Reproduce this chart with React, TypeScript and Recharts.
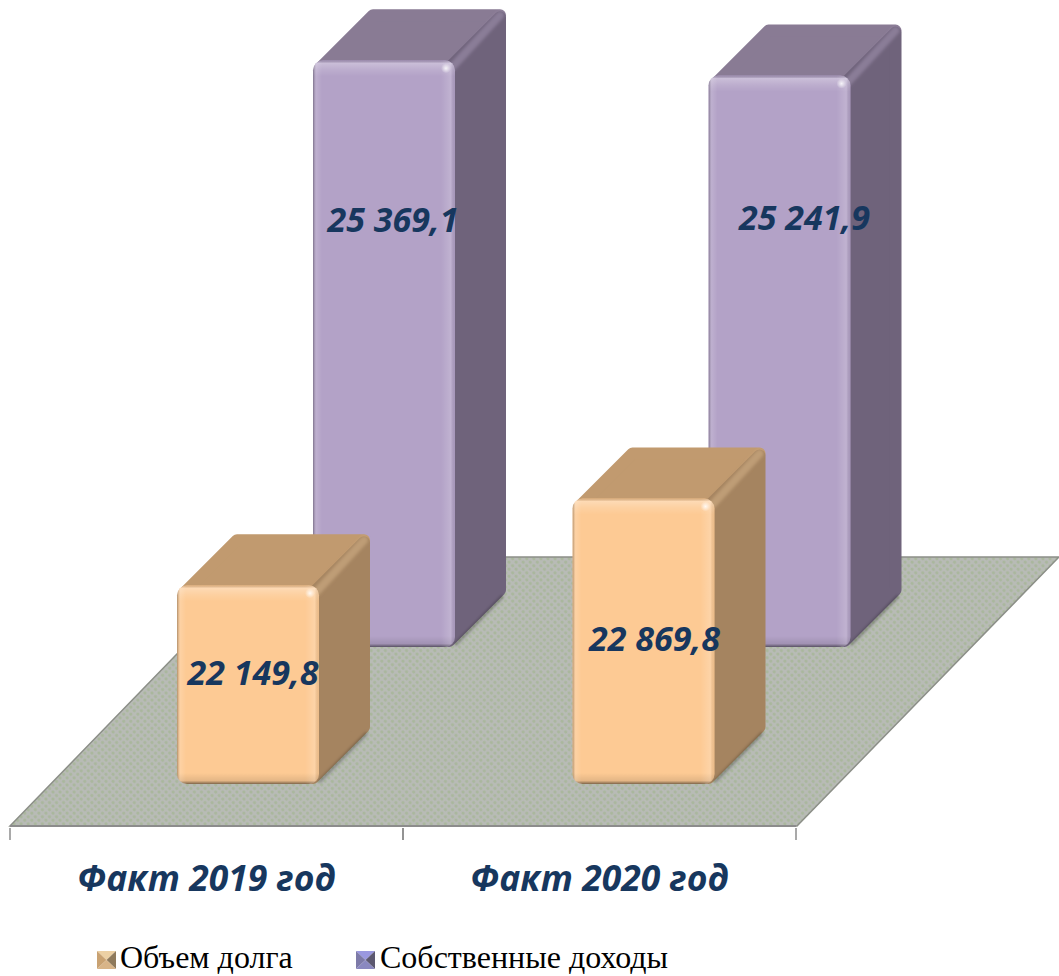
import React from 'react';
import { BarChart, Bar, XAxis, YAxis, Legend, LabelList } from 'recharts';

const categories = ['Факт 2019 год', 'Факт 2020 год'];
const debtValues = [22149.8, 22869.8];
const incomeValues = [25369.1, 25241.9];
const seriesNames = ['Объем долга', 'Собственные доходы'];

const chartData = categories.map((category, i) => ({
  category,
  debt: debtValues[i],
  income: incomeValues[i],
}));

const LABEL_COLOR = '#17375e';
const LABEL_FONT = '"Open Sans", sans-serif';
const DEPTH = 51;
const HALF_BAND = 196.5;

// front row sits above the axis line, back row further up the floor
const debtStyle = { front: '#fdca94', top: '#c19a6f', side: '#a58460', ridge: '#d8b68c', lift: -42 };
const incomeStyle = { front: '#b3a2c7', top: '#897b94', side: '#6f637b', ridge: '#a596b3', lift: -179 };

const debtLabelShift = [[5, 87], [11, 140]];
const incomeLabelShift = [[9, 159], [25, 141]];

const formatValue = (v: number) => v.toFixed(1).replace('.', ',').replace(/\B(?=(\d{3})(?=,))/, ' ');

function makeBox(style: typeof debtStyle, key: string) {
  return function Box(props: any) {
    const { x, width: w, height: h, index } = props;
    const y = props.y + style.lift;
    const d = DEPTH;
    const r = 6;
    const clip = `clip-${key}-${index}`;
    const top = `${x + r + 3},${y + r} ${x + d + r + 3},${y - d + r} ${x + w + d - r},${y - d + r} ${x + w - r},${y + r}`;
    const side = `${x + w - r},${y + r + 2} ${x + w + d - r},${y - d + r + 2} ${x + w + d - r},${y + h - d - r} ${x + w - r},${y + h - r}`;
    return (
      <g>
        <polygon points={top} fill={style.top} stroke={style.top} strokeWidth={r * 2} strokeLinejoin="round" />
        <polygon points={side} fill={style.side} stroke={style.side} strokeWidth={r * 2} strokeLinejoin="round" />
        <line x1={x + w - 2} y1={y + 6} x2={x + w + d - 6} y2={y - d + 6} stroke={style.ridge} strokeOpacity={0.5} strokeWidth={8} strokeLinecap="round" filter="url(#soften)" />
        <line x1={x + w} y1={y + h - 2} x2={x + w + d - 3} y2={y + h - d} stroke="#000" strokeOpacity={0.3} strokeWidth={3} filter="url(#soften)" />
        <clipPath id={clip}>
          <rect x={x} y={y} width={w} height={h} rx={10} />
        </clipPath>
        <rect x={x} y={y} width={w} height={h} rx={10} fill={style.front} />
        <g clipPath={`url(#${clip})`}>
          <rect x={x} y={y} width={w} height={16} fill="url(#edgeTop)" />
          <rect x={x} y={y + h - 11} width={w} height={11} fill="url(#edgeBottom)" />
          <rect x={x} y={y} width={9} height={h} fill="url(#edgeLeft)" />
          <rect x={x + w - 14} y={y} width={14} height={h} fill="url(#edgeRight)" />
          <circle cx={x + w - 9} cy={y + 8} r={5} fill="url(#spot)" />
        </g>
      </g>
    );
  };
}

const DebtBox = makeBox(debtStyle, 'debt');
const IncomeBox = makeBox(incomeStyle, 'income');

function makeValueLabel(style: typeof debtStyle, shifts: number[][]) {
  return function ValueLabel(props: any) {
    const { x, y, width, value, index } = props;
    return (
      <text
        x={x + width / 2 + shifts[index][0]}
        y={y + style.lift + shifts[index][1]}
        textAnchor="middle"
        dominantBaseline="central"
        fill={LABEL_COLOR}
        fontFamily={LABEL_FONT}
        fontStyle="italic"
        fontWeight={700}
        fontSize={34}
      >
        {formatValue(value)}
      </text>
    );
  };
}

function CategoryTick({ x, y, payload }: any) {
  return (
    <g>
      <line x1={x - HALF_BAND} y1={y} x2={x - HALF_BAND} y2={y + 12} stroke="#8c8c8c" strokeWidth={1.5} />
      <line x1={x + HALF_BAND} y1={y} x2={x + HALF_BAND} y2={y + 12} stroke="#8c8c8c" strokeWidth={1.5} />
      <text
        x={x}
        y={y + 63}
        textAnchor="middle"
        fill={LABEL_COLOR}
        fontFamily={LABEL_FONT}
        fontStyle="italic"
        fontWeight={700}
        fontSize={35.5}
      >
        {payload.value}
      </text>
    </g>
  );
}

const legendFaces = [
  ['#ecd0a4', '#c9a272', '#8f7a5c', '#d8b488'],
  ['#9a98e0', '#7d7aa8', '#5c5870', '#8a88c0'],
];

function LegendIcon({ faces }: { faces: string[] }) {
  return (
    <svg width={19} height={18} style={{ display: 'block', position: 'relative', top: 3 }}>
      <polygon points="0,0 19,0 9.5,9" fill={faces[0]} />
      <polygon points="0,0 0,18 9.5,9" fill={faces[1]} />
      <polygon points="19,0 19,18 9.5,9" fill={faces[2]} />
      <polygon points="0,18 19,18 9.5,9" fill={faces[3]} />
    </svg>
  );
}

function ChartLegend() {
  return (
    <div style={{ position: 'relative', height: 30, width: 1059, fontFamily: '"Liberation Serif", serif', fontSize: 32, color: '#000' }}>
      {seriesNames.map((name, i) => (
        <div key={name} style={{ position: 'absolute', left: i === 0 ? 97 : 356, top: 0, display: 'flex', alignItems: 'center', gap: i === 0 ? 4 : 5, lineHeight: '30px', whiteSpace: 'nowrap' }}>
          <LegendIcon faces={legendFaces[i]} />
          <span>{name}</span>
        </div>
      ))}
    </div>
  );
}

export default function App() {
  return (
    <div style={{ position: 'absolute', left: 0, top: 0, width: 1059, height: 976, background: '#fff' }}>
      <BarChart width={1059} height={976} data={chartData} margin={{ top: 0, right: 263, bottom: 54, left: 10 }}>
        <defs>
          <pattern id="floorWeave" width={5} height={5} patternUnits="userSpaceOnUse" patternTransform="rotate(45)">
            <rect width={5} height={5} fill="#b8bbb6" />
            <circle cx={2.5} cy={2.5} r={1.6} fill="#a9b79c" />
          </pattern>
          <filter id="soften" x="-20%" y="-20%" width="140%" height="140%">
            <feGaussianBlur stdDeviation={1.5} />
          </filter>
          <linearGradient id="edgeTop" x1="0" y1="0" x2="0" y2="1">
            <stop offset="0" stopColor="#000" stopOpacity={0.12} />
            <stop offset="0.18" stopColor="#fff" stopOpacity={0.3} />
            <stop offset="0.6" stopColor="#fff" stopOpacity={0.12} />
            <stop offset="1" stopColor="#fff" stopOpacity={0} />
          </linearGradient>
          <linearGradient id="edgeBottom" x1="0" y1="0" x2="0" y2="1">
            <stop offset="0" stopColor="#000" stopOpacity={0} />
            <stop offset="0.7" stopColor="#000" stopOpacity={0.1} />
            <stop offset="1" stopColor="#000" stopOpacity={0.5} />
          </linearGradient>
          <linearGradient id="edgeLeft" x1="0" y1="0" x2="1" y2="0">
            <stop offset="0" stopColor="#000" stopOpacity={0.3} />
            <stop offset="0.35" stopColor="#fff" stopOpacity={0.15} />
            <stop offset="1" stopColor="#fff" stopOpacity={0} />
          </linearGradient>
          <linearGradient id="edgeRight" x1="0" y1="0" x2="1" y2="0">
            <stop offset="0" stopColor="#fff" stopOpacity={0} />
            <stop offset="0.7" stopColor="#fff" stopOpacity={0.18} />
            <stop offset="1" stopColor="#000" stopOpacity={0.06} />
          </linearGradient>
          <radialGradient id="spot">
            <stop offset="0" stopColor="#fff" stopOpacity={0.85} />
            <stop offset="1" stopColor="#fff" stopOpacity={0} />
          </radialGradient>
        </defs>

        {/* Floor of the 3D plot */}
        <polygon points="10,826 797,826 1059,557 271,557" fill="url(#floorWeave)" stroke="#8c8f88" strokeWidth={1.5} />

        <XAxis
          dataKey="category"
          interval={0}
          height={66}
          axisLine={{ stroke: '#8c8c8c', strokeWidth: 2 }}
          tickLine={false}
          tickSize={0}
          tick={<CategoryTick />}
        />
        {/* Each row of boxes gets its own band scale so the rows can overlap */}
        <XAxis xAxisId="back" dataKey="category" hide padding={{ left: 176, right: -181 }} />
        <XAxis xAxisId="front" dataKey="category" hide padding={{ left: 40, right: -45 }} />
        <YAxis hide domain={[20500, 27355]} />

        <Legend verticalAlign="bottom" height={30} content={<ChartLegend />} wrapperStyle={{ left: 0, bottom: 4, width: 1059 }} />

        <Bar dataKey="income" name={seriesNames[1]} xAxisId="back" barSize={142} fill={incomeStyle.front} shape={<IncomeBox />} isAnimationActive={false}>
          <LabelList dataKey="income" content={makeValueLabel(incomeStyle, incomeLabelShift)} />
        </Bar>
        <Bar dataKey="debt" name={seriesNames[0]} xAxisId="front" barSize={142} fill={debtStyle.front} shape={<DebtBox />} isAnimationActive={false}>
          <LabelList dataKey="debt" content={makeValueLabel(debtStyle, debtLabelShift)} />
        </Bar>
      </BarChart>
    </div>
  );
}
